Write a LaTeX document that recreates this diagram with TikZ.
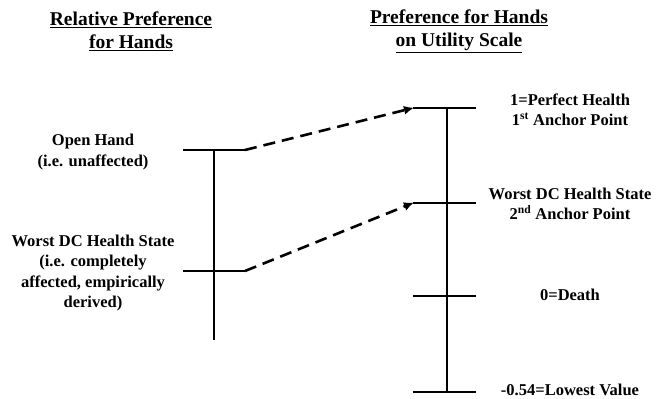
\documentclass[tikz,border=0pt]{standalone}
\usepackage{fontspec}
\setmainfont{Liberation Serif}
\usetikzlibrary{arrows.meta}
\begin{document}
\begin{tikzpicture}[x=1pt,y=-1pt,
  scaleline/.style={line width=2.6pt},
  conn/.style={line width=2.6pt, dash pattern=on 12pt off 7pt, -{Latex[length=10pt,width=9pt]}, shorten >=-1pt},
  lbl/.style={font=\bfseries\fontsize{16.5}{20.5}\selectfont, align=center, inner sep=0pt},
  ttl/.style={font=\bfseries\fontsize{19.5}{23}\selectfont, align=center, inner sep=0pt}]
\useasboundingbox (0,0) rectangle (657,399);
% titles
\node[ttl] (t1) at (131,31) {\underline{Relative Preference}\\\underline{for Hands}};
\node[ttl] (t2) at (459,31) {\underline{Preference for Hands}\\\underline{on Utility Scale}};
% left scale
\coordinate (la) at (214,150);
\coordinate (lb) at (214,340);
\draw[scaleline] (la) -- (lb);
\coordinate (l1w) at (183,150); \coordinate (l1e) at (245,150);
\coordinate (l2w) at (183,271); \coordinate (l2e) at (245,271);
\draw[scaleline] (l1w) -- (l1e);
\draw[scaleline] (l2w) -- (l2e);
% right scale
\coordinate (ra) at (447,108);
\coordinate (rb) at (447,392);
\draw[scaleline] (ra) -- (rb);
\coordinate (r1w) at (413,108); \coordinate (r1e) at (476,108);
\coordinate (r2w) at (413,203); \coordinate (r2e) at (476,203);
\coordinate (r3w) at (413,296); \coordinate (r3e) at (476,296);
\coordinate (r4w) at (413,392); \coordinate (r4e) at (476,392);
\draw[scaleline] (r1w) -- (r1e);
\draw[scaleline] (r2w) -- (r2e);
\draw[scaleline] (r3w) -- (r3e);
\draw[scaleline] (r4w) -- (r4e);
% connectors
\draw[conn] (l1e) -- (r1w);
\draw[conn] (l2e) -- (r2w);
% left labels
\node[lbl] (a1) at (93,152) {Open Hand\\(i.e. unaffected)};
\node[lbl] (a2) at (93,273) {Worst DC Health State\\(i.e. completely\\affected, empirically\\derived)};
% right labels
\node[lbl] (b1) at (570,110) {1=Perfect Health\\1\textsuperscript{st} Anchor Point};
\node[lbl] (b2) at (570,204) {Worst DC Health State\\2\textsuperscript{nd} Anchor Point};
\node[lbl] (b3) at (570,295) {0=Death};
\node[font=\bfseries\fontsize{16.5}{20.5}\selectfont, inner sep=0pt] (b4) at (570,390) {-0.54=Lowest Value};
\end{tikzpicture}
\end{document}
